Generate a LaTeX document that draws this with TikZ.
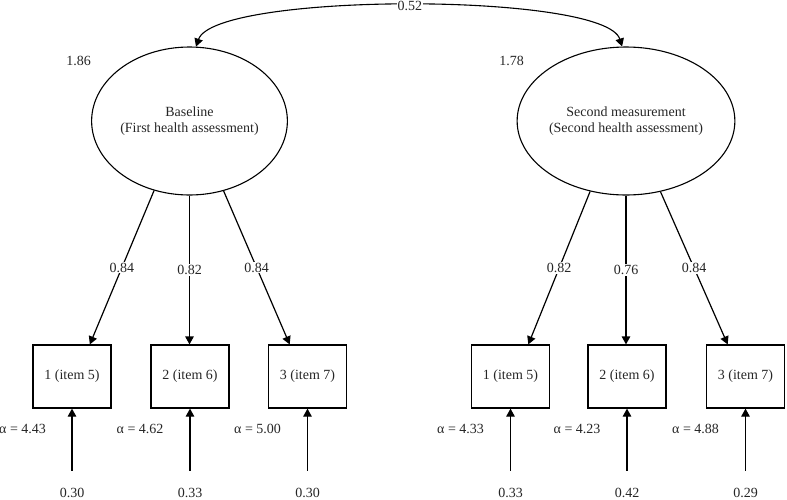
\documentclass[tikz,border=0pt]{standalone}
\usepackage{fontspec}
\setmainfont{Liberation Serif}
\usetikzlibrary{shapes.geometric,arrows.meta,calc}
\begin{document}
\begin{tikzpicture}[x=1pt,y=-1pt,
  every node/.style={font=\fontsize{14}{16.5}\selectfont, text=black!85},
  latent/.style={draw, ellipse, line width=1.1pt, minimum width=193pt, minimum height=148pt, inner sep=0pt, align=center},
  item/.style={draw, rectangle, line width=1.2pt, minimum width=78pt, minimum height=63pt, inner sep=0pt},
  arr/.style={line width=1.2pt, -{Triangle[length=8pt,width=8.5pt]}},
  lbl/.style={fill=white, inner sep=1pt}]
\useasboundingbox (0,0) rectangle (787,499);
% latent variables
\node[latent] (e1) at (189.5,121) {Baseline\\(First health assessment)};
\node[latent] (e2) at (626,121) {Second measurement\\(Second health assessment)};
\node (v1) at (78.5,61) {1.86};
\node (v2) at (511.5,61) {1.78};
% covariance
\draw[line width=1.1pt, {Triangle[length=8pt,width=8.5pt]}-{Triangle[length=8pt,width=8.5pt]}]
  (e1.85) .. controls (215,-8) and (605,-8) .. node[lbl] {0.52} (e2.93);
% items
\node[item] (b1) at (72,376.5) {1 (item 5)};
\node[item] (b2) at (190,376.5) {2 (item 6)};
\node[item] (b3) at (307.5,376.5) {3 (item 7)};
\node[item] (b4) at (510.5,376.5) {1 (item 5)};
\node[item] (b5) at (627,376.5) {2 (item 6)};
\node[item] (b6) at (745.5,376.5) {3 (item 7)};
% loadings
\draw[arr] (e1.243.5) -- node[lbl] {0.84} ($(b1.north)!0.45!(b1.north east)$);
\draw[arr] (e1.south) -- node[lbl] {0.82} (e1.south |- b2.north);
\draw[arr] (e1.296.5) -- node[lbl] {0.84} ($(b3.north)!0.45!(b3.north west)$);
\draw[arr] (e2.243.5) -- node[lbl] {0.82} ($(b4.north)!0.45!(b4.north east)$);
\draw[arr] (e2.south) -- node[lbl] {0.76} (e2.south |- b5.north);
\draw[arr] (e2.296.5) -- node[lbl] {0.84} ($(b6.north)!0.45!(b6.north west)$);
% error terms
\foreach \b/\r in {b1/0.30, b2/0.33, b3/0.30, b4/0.33, b5/0.42, b6/0.29}{
  \coordinate (s\b) at ($(\b.south)+(0,62)$);
  \draw[arr] (s\b) -- (\b.south);
  \node (r\b) at ($(\b.south)+(0,84)$) {\r};
}
% intercepts
\node[anchor=east] (a1) at ($(b1.south)+(-22.5,20)$) {α = 4.43};
\node[anchor=east] (a2) at ($(b2.south)+(-23,20)$) {α = 4.62};
\node[anchor=east] (a3) at ($(b3.south)+(-23,20)$) {α = 5.00};
\node[anchor=east] (a4) at ($(b4.south)+(-23,20)$) {α = 4.33};
\node[anchor=east] (a5) at ($(b5.south)+(-23,20)$) {α = 4.23};
\node[anchor=east] (a6) at ($(b6.south)+(-23,20)$) {α = 4.88};
\end{tikzpicture}
\end{document}
